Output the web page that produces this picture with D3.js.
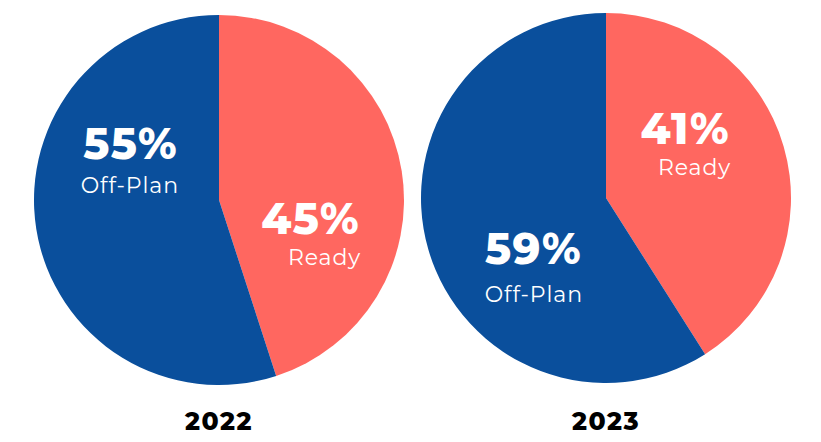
<!DOCTYPE html>
<html>
<head>
<meta charset="utf-8">
<script src="https://cdn.jsdelivr.net/npm/d3@7"></script>
<style>
  body { margin: 0; background: #fff; }
  text { font-family: "Montserrat", "Open Sans", sans-serif; fill: #fff; }
</style>
</head>
<body>
<div id="chart"></div>
<script>
// datos
var years = ["2022", "2023"],
    categories = ["Ready", "Off-Plan"],
    readyShare = [45, 41],      // % listo
    offPlanShare = [55, 59];    // % sobre plano

var width = 821,
    height = 442,
    radius = 185,
    centers = [[219, 200], [606, 198]], // centro de cada tarta
    colors = {"Ready": "#ff6760", "Off-Plan": "#0a4f9c"};

// posicion de etiquetas respecto al centro (extremo derecho, lineas base)
var labelPos = [
  {"Ready": [141, 34, 65], "Off-Plan": [-41, -41, -7]},
  {"Ready": [124, -54, -23], "Off-Plan": [-24, 66, 104]}
];

var svg = d3.select("#chart")
            .append("svg")
            .attr("width", width)
            .attr("height", height);

var pie = d3.pie()
            .sort(null)
            .value(d => d.value);

var arc = d3.arc()
            .innerRadius(0)
            .outerRadius(radius);

years.forEach(function(year, i) {
  var data = [
    {cat: categories[0], value: readyShare[i]},
    {cat: categories[1], value: offPlanShare[i]}
  ];

  var g = svg.append("g")
             .attr("transform", "translate(" + centers[i][0] + "," + centers[i][1] + ")");

  g.selectAll("path")
   .data(pie(data))
   .enter().append("path")
   .attr("d", arc)
   .attr("fill", d => colors[d.data.cat]);

  // etiquetas de porcentaje y categoria
  var lab = g.selectAll(".lab")
             .data(data)
             .enter().append("g")
             .attr("class", "lab");

  lab.append("text")
     .attr("x", d => labelPos[i][d.cat][0])
     .attr("y", d => labelPos[i][d.cat][1])
     .attr("text-anchor", "end")
     .style("font-size", "43px")
     .style("font-weight", 800)
     .style("letter-spacing", "1.5px")
     .text(d => d.value + "%");

  lab.append("text")
     .attr("x", d => labelPos[i][d.cat][0] + 1)
     .attr("y", d => labelPos[i][d.cat][2])
     .attr("text-anchor", "end")
     .style("font-size", "22px")
     .style("letter-spacing", "0.9px")
     .text(d => d.cat);

  // año debajo de la tarta
  svg.append("text")
     .attr("x", centers[i][0])
     .attr("y", 430)
     .attr("text-anchor", "middle")
     .style("font-size", "25px")
     .style("font-weight", 800)
     .style("letter-spacing", "1.5px")
     .style("fill", "#000")
     .text(year);
});
</script>
</body>
</html>
